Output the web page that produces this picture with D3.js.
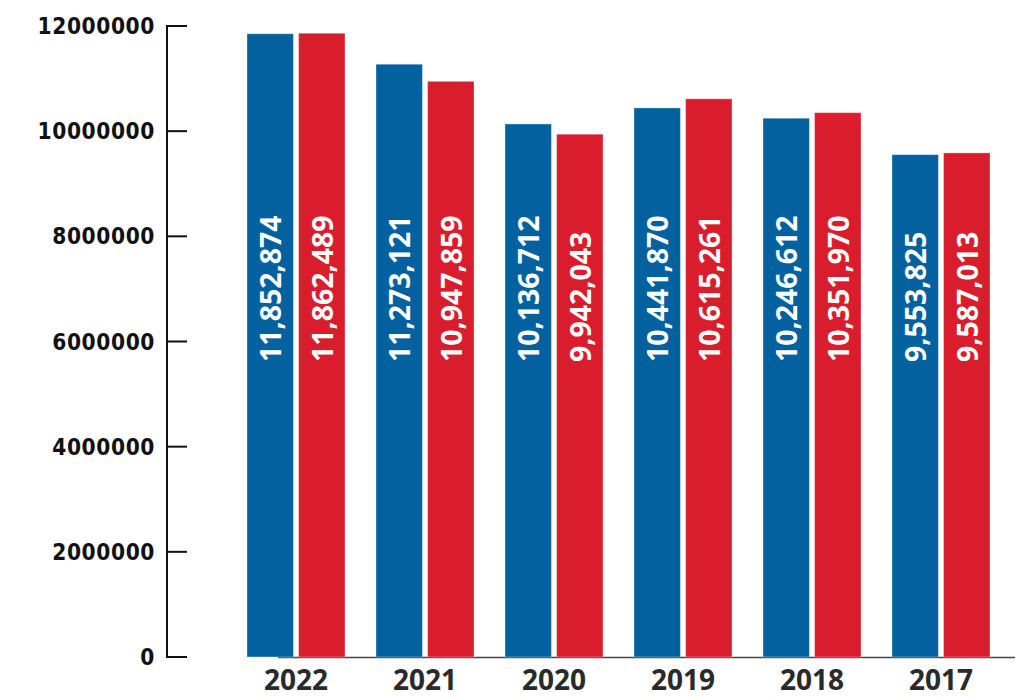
<!DOCTYPE html>
<html>
<head>
<meta charset="utf-8">
<script src="https://cdn.jsdelivr.net/npm/d3@7"></script>
<style>
  html, body { margin: 0; padding: 0; background: #fff; }
  svg { display: block; }
</style>
</head>
<body>
<div id="chart"></div>
<script>
// chart data
var years = ['2022', '2021', '2020', '2019', '2018', '2017'];
var series = ['blue', 'red'];
var blueValues = [11852874, 11273121, 10136712, 10441870, 10246612, 9553825];
var redValues = [11862489, 10947859, 9942043, 10615261, 10351970, 9587013];
var yTicks = [0, 2000000, 4000000, 6000000, 8000000, 10000000, 12000000];

var COLOR = { blue: '#02619e', red: '#d91d2c' };

var width = 1026, height = 699;

var svg = d3.select('#chart').append('svg')
  .attr('width', width)
  .attr('height', height);

var y = d3.scaleLinear().domain([0, 12000000]).range([657, 26]);

var x = d3.scaleBand().domain(years).range([247, 990]).paddingInner(0.24).paddingOuter(0);
var xs = d3.scaleBand().domain(series).range([0, x.bandwidth()]).paddingInner(0.1).paddingOuter(0);

var rows = years.map(function (yr, i) {
  return { year: yr, blue: blueValues[i], red: redValues[i] };
});

// bottom baseline
svg.append('line')
  .attr('x1', 278).attr('x2', 1015)
  .attr('y1', 657.5).attr('y2', 657.5)
  .attr('stroke', '#444').attr('stroke-width', 1.6);

// bars
var groups = svg.selectAll('g.year')
  .data(rows)
  .enter().append('g')
  .attr('class', 'year')
  .attr('transform', function (d) { return 'translate(' + x(d.year) + ',0)'; });

groups.selectAll('rect')
  .data(function (d) { return series.map(function (s) { return { key: s, value: d[s] }; }); })
  .enter().append('rect')
  .attr('x', function (d) { return xs(d.key); })
  .attr('y', function (d) { return y(d.value); })
  .attr('width', xs.bandwidth())
  .attr('height', function (d) { return y(0) - y(d.value); })
  .attr('fill', function (d) { return COLOR[d.key]; })
  .attr('stroke', 'rgba(255,255,255,0.35)')
  .attr('stroke-width', 1);

// value labels, rotated
groups.selectAll('text.val')
  .data(function (d) { return series.map(function (s) { return { key: s, value: d[s] }; }); })
  .enter().append('text')
  .attr('class', 'val')
  .attr('transform', function (d) {
    return 'translate(' + (xs(d.key) + xs.bandwidth() / 2 + 1) + ',362) rotate(-90)';
  })
  .attr('dy', '0.36em')
  .attr('text-anchor', 'start')
  .attr('fill', '#fff')
  .style('font-family', '"Open Sans", "Noto Sans", sans-serif')
  .style('font-weight', 700)
  .style('font-size', '28.5px')
  .text(function (d) { return d3.format(',')(d.value); });

// y axis
var yAxis = svg.append('g');
yAxis.append('line')
  .attr('x1', 167).attr('x2', 167)
  .attr('y1', y(12000000) - 1).attr('y2', y(0) + 1)
  .attr('stroke', '#111').attr('stroke-width', 2);

yAxis.selectAll('line.tick')
  .data(yTicks)
  .enter().append('line')
  .attr('class', 'tick')
  .attr('x1', 167).attr('x2', 187)
  .attr('y1', function (d) { return y(d); })
  .attr('y2', function (d) { return y(d); })
  .attr('stroke', '#111').attr('stroke-width', 2);

yAxis.selectAll('text')
  .data(yTicks)
  .enter().append('text')
  .attr('x', 155)
  .attr('y', function (d) { return y(d); })
  .attr('dy', '0.36em')
  .attr('text-anchor', 'end')
  .attr('fill', '#111')
  .style('font-family', '"DejaVu Sans Condensed", "DejaVu Sans", sans-serif')
  .style('font-stretch', 'condensed')
  .style('font-weight', 700)
  .style('font-size', '22.5px')
  .style('letter-spacing', '0.6px')
  .text(function (d) { return String(d); });

// x labels
svg.selectAll('text.year')
  .data(years)
  .enter().append('text')
  .attr('class', 'year')
  .attr('x', function (d) { return x(d) + x.bandwidth() / 2; })
  .attr('y', 690)
  .attr('text-anchor', 'middle')
  .attr('fill', '#2a2a2a')
  .style('font-family', '"Open Sans", "Noto Sans", sans-serif')
  .style('font-weight', 700)
  .style('font-size', '28px')
  .text(function (d) { return d; });
</script>
</body>
</html>
